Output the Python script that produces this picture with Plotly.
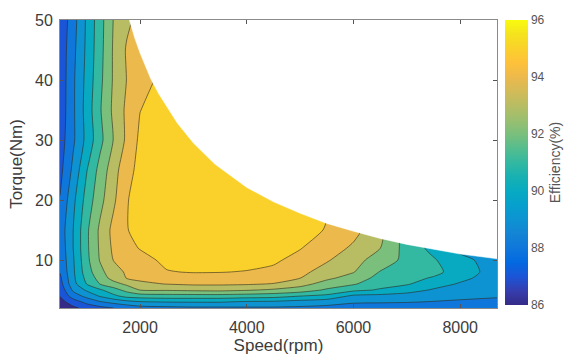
import plotly.graph_objects as go

# ---------------- data ----------------
speed_rpm = [500, 750, 1000, 1250, 1500, 1750, 2000, 2500, 3000, 3500,
             4000, 4500, 5000, 5500, 6000, 6500, 7000, 7500, 8000, 8700]
torque_nm = [2, 3, 4, 5, 6, 7, 8, 10, 12, 15, 20, 25, 30, 35, 40, 45, 50]

# efficiency (%) along speed_rpm, one list per torque level
eff_2nm = [86.2, 86.8, 87.3, 87.7, 88.0, 88.3, 88.6, 88.7, 88.8, 88.8,
           88.85, 88.85, 88.8, 88.7, 88.4, 88.4, 88.35, 88.3, 88.25, 88.2]
eff_3nm = [86.6, 87.5, 88.3, 88.9, 89.3, 89.65, 89.9, 90.02, 90.05, 90.05,
           89.85, 89.8, 89.6, 89.4, 89.15, 89.1, 89.05, 88.95, 88.85, 88.75]
eff_4nm = [87.05, 88.5, 89.3, 90.1, 90.75, 91.35, 91.5, 91.6, 91.6, 91.6,
           91.5, 91.4, 91.02, 90.75, 89.8, 89.7, 89.6, 89.4, 89.25, 89.1]
eff_5nm = [87.3, 89.2, 90.15, 90.85, 91.6, 92.3, 93.02, 93.1, 93.2, 93.25,
           93.1, 92.85, 92.55, 91.85, 91.25, 90.9, 90.4, 89.9, 89.55, 89.3]
eff_6nm = [87.6, 89.67, 91.02, 92.02, 92.6, 93.2, 93.85, 94.02, 94.15, 94.15,
           94.1, 93.95, 93.35, 92.6, 92.1, 91.35, 91.1, 90.4, 89.9, 89.4]
eff_7nm = [87.8, 89.8, 91.3, 92.4, 93.4, 94.05, 94.15, 94.5, 94.6, 94.6,
           94.6, 94.45, 94.02, 93.2, 92.6, 91.65, 91.35, 90.9, 90.25, 89.5]
eff_8nm = [88.05, 89.85, 91.53, 92.7, 93.6, 94.13, 94.3, 94.95, 95.05, 95.03,
           94.95, 94.8, 94.25, 93.6, 93.05, 91.95, 91.55, 91.3, 90.5, 89.55]
eff_10nm = [88.2, 89.92, 91.73, 93.07, 94.02, 94.3, 94.7, 95.2, 95.4, 95.45,
            95.35, 95.15, 94.7, 94.1, 93.4, 92.5, 91.75, 91.1, 90.3, 89.5]
eff_12nm = [88.3, 90.02, 91.8, 93.15, 94.17, 94.72, 95.05, 95.4, 95.5, 95.55,
            95.5, 95.4, 95.05, 94.45, 93.85, 93.02, 91.6, 90.7, 89.7, 89.4]
eff_15nm = [88.4, 90.02, 91.8, 93.19, 94.28, 94.97, 95.2, 95.5, 95.6, 95.6,
            95.6, 95.5, 95.3, 94.95, 94.3, 93.3, 91.5, 90.5, 89.6, 89.3]
eff_20nm = [88.05, 89.77, 91.4, 92.68, 93.8, 94.95, 95.3, 95.6, 95.7, 95.7,
            95.6, 95.5, 95.3, 95.1, 94.4, 93.4, 91.5, 90.5, 89.6, 89.3]
eff_25nm = [87.7, 89.25, 90.95, 92.35, 93.55, 94.7, 95.25, 95.6, 95.7, 95.7,
            95.6, 95.4, 95.2, 95.05, 94.4, 93.4, 91.5, 90.5, 89.6, 89.3]
eff_30nm = [87.5, 88.85, 90.3, 91.7, 93.02, 94.2, 95.2, 95.6, 95.7, 95.6,
            95.5, 95.4, 95.2, 95.05, 94.4, 93.4, 91.5, 90.5, 89.6, 89.3]
eff_35nm = [87.35, 88.85, 90.4, 91.9, 93.2, 94.2, 94.98, 95.5, 95.6, 95.6,
            95.5, 95.4, 95.2, 95.05, 94.4, 93.4, 91.5, 90.5, 89.6, 89.3]
eff_40nm = [87.3, 88.85, 90.3, 91.75, 93.1, 94.02, 94.65, 95.3, 95.5, 95.5,
            95.5, 95.4, 95.2, 95.05, 94.4, 93.4, 91.5, 90.5, 89.6, 89.3]
eff_45nm = [87.3, 88.75, 90.2, 91.65, 93.1, 94.1, 94.5, 94.9, 95.3, 95.4,
            95.5, 95.4, 95.2, 95.05, 94.4, 93.4, 91.5, 90.5, 89.6, 89.3]
eff_50nm = [87.2, 88.6, 90.15, 91.6, 93.02, 93.8, 94.3, 94.7, 94.95, 95.2,
            95.4, 95.4, 95.2, 95.05, 94.4, 93.4, 91.5, 90.5, 89.6, 89.3]

# maximum-torque envelope (white region above it)
envelope_speed = [1800, 1900, 2000, 2100, 2200, 2350, 2500, 2700, 3000, 3400,
                  4000, 4500, 5000, 5500, 6000, 6500, 7000, 7500, 8000, 8700]
envelope_torque = [50, 47, 44.5, 42.2, 40.2, 37.7, 35.5, 32.8, 29.5, 26.0,
                   22.1, 19.7, 17.8, 16.1, 14.8, 13.6, 12.6, 11.8, 11.0, 10.2]

level_start, level_end, level_step = 86, 95, 1
cbar_ticks = [86, 88, 90, 92, 94, 96]

# ---------------- styling ----------------
# parula samples at 0.0, 0.1, ... 1.0
parula11 = ["#352a87", "#1b55d7", "#0f77db", "#0d93d2", "#07aac1", "#33b8a1",
            "#7abf7c", "#b8bd63", "#ecb94c", "#fad12b", "#f9fb0e"]
parula_cont = [
    [0.00, "#352a87"], [0.05, "#353eaf"], [0.10, "#1b55d7"], [0.15, "#036ae1"],
    [0.20, "#0f77db"], [0.25, "#1484d4"], [0.30, "#0d93d2"], [0.35, "#06a0cd"],
    [0.40, "#07aac1"], [0.45, "#18b1b2"], [0.50, "#33b8a1"], [0.55, "#55bd8e"],
    [0.60, "#7abf7c"], [0.65, "#9bbf6f"], [0.70, "#b8bd63"], [0.75, "#d3bb58"],
    [0.80, "#ecb94c"], [0.85, "#fec13a"], [0.90, "#fad12b"], [0.95, "#f5e31e"],
    [1.00, "#f9fb0e"]]

# band [k, k+1] is drawn with the colour of its lower level k (MATLAB style)
n_levels = int(round((level_end - level_start) / level_step)) + 1
band_scale = [[0.0, parula11[0]]]
for i in range(n_levels):
    band_scale.append([(i + 1) / n_levels, parula11[i]])

z = [eff_2nm, eff_3nm, eff_4nm, eff_5nm, eff_6nm, eff_7nm, eff_8nm, eff_10nm,
     eff_12nm, eff_15nm, eff_20nm, eff_25nm, eff_30nm, eff_35nm, eff_40nm,
     eff_45nm, eff_50nm]

FONT = "Liberation Sans, Arial, sans-serif"
TXT = "#3c3c3c"

fig = go.Figure()
fig.add_trace(go.Contour(
    x=speed_rpm, y=torque_nm, z=z,
    contours=dict(start=level_start, end=level_end, size=level_step, coloring="fill"),
    colorscale=band_scale, showscale=False,
    line=dict(color="rgba(45,40,25,0.85)", width=0.7, smoothing=0.6),
    hoverinfo="skip"))

poly_x = envelope_speed + [8900, 8900, envelope_speed[0]]
poly_y = envelope_torque + [envelope_torque[-1], 53, 53]
fig.add_trace(go.Scatter(
    x=poly_x, y=poly_y, mode="lines", fill="toself", fillcolor="white",
    line=dict(color="white", width=0.5), hoverinfo="skip", showlegend=False))

fig.add_trace(go.Scatter(
    x=[20000], y=[200], mode="markers", hoverinfo="skip", showlegend=False,
    marker=dict(size=1, color=[90], colorscale=parula_cont, cmin=86, cmax=96,
                showscale=True,
                colorbar=dict(thickness=23, thicknessmode="pixels",
                              len=285, lenmode="pixels",
                              x=1.0183, xanchor="left", xpad=0,
                              y=1, yanchor="top", ypad=0,
                              outlinewidth=0, tickvals=cbar_ticks, ticks="",
                              tickfont=dict(family=FONT, size=12, color="#555"),
                              title=dict(text="Efficiency(%)", side="right",
                                         font=dict(family=FONT, size=14, color="#555"))))))

axis_common = dict(showline=True, linecolor="#8a8a8a", linewidth=1, mirror="ticks",
                   ticks="inside", ticklen=4, tickcolor="#555", showgrid=False,
                   zeroline=False, automargin=False,
                   tickfont=dict(family=FONT, size=16, color=TXT))
fig.update_layout(
    width=581, height=358,
    margin=dict(l=60, r=84, t=20, b=50, pad=0, autoexpand=False),
    paper_bgcolor="white", plot_bgcolor="white",
    showlegend=False,
    xaxis=dict(range=[500, 8690], tickvals=[2000, 4000, 6000, 8000],
               ticklabelstandoff=5,
               title=dict(text="Speed(rpm)", font=dict(family=FONT, size=17, color=TXT),
                          standoff=2),
               **axis_common),
    yaxis=dict(range=[2, 50], tickvals=[10, 20, 30, 40, 50],
               ticklabelstandoff=3,
               title=dict(text="Torque(Nm)", font=dict(family=FONT, size=17, color=TXT),
                          standoff=8),
               **axis_common),
)

fig.write_html("out.html")
